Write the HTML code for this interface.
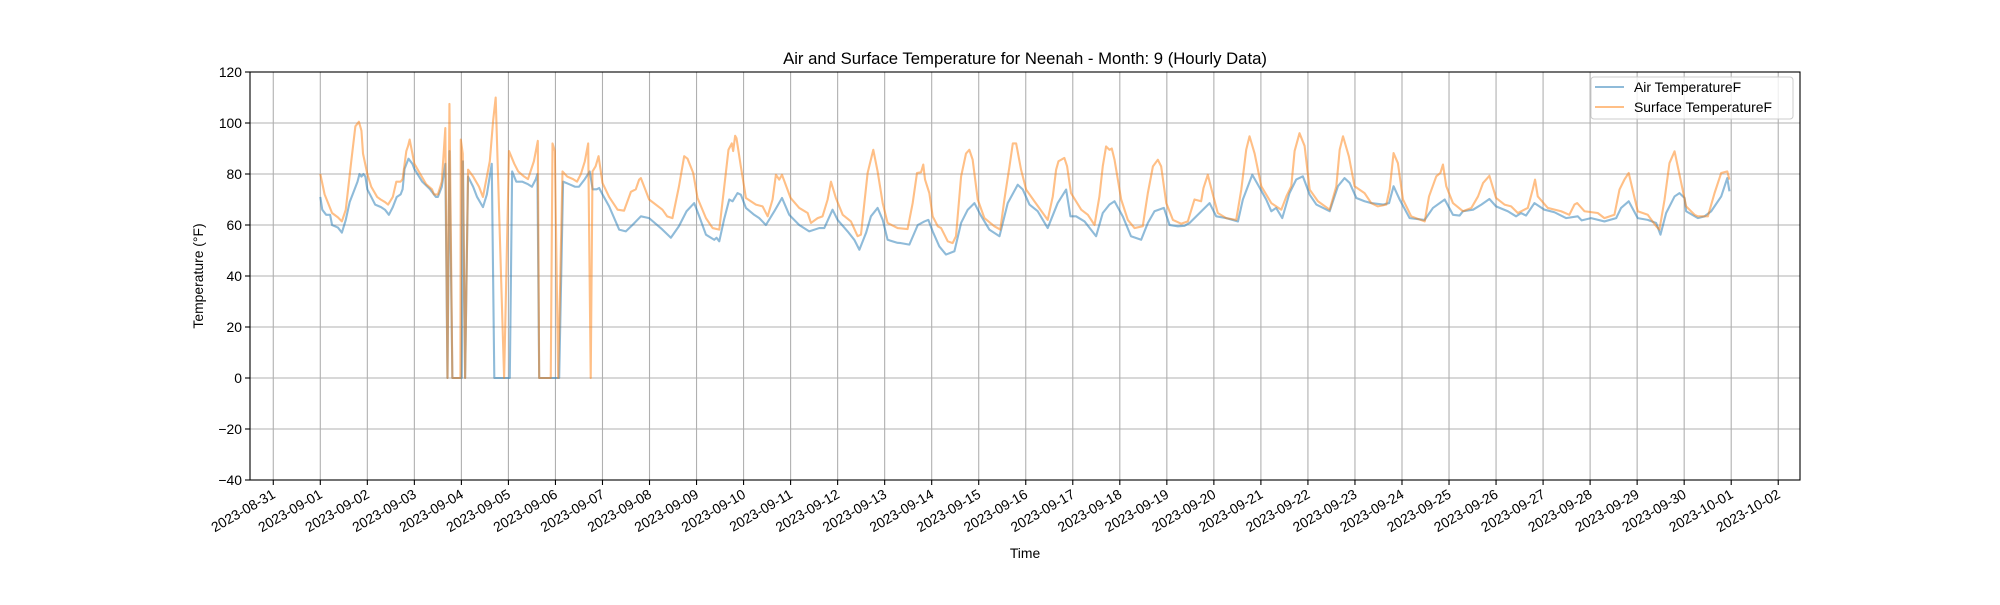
<!DOCTYPE html>
<html><head><meta charset="utf-8"><style>
html,body{margin:0;padding:0;background:#fff;}
svg text{font-family:"Liberation Sans","DejaVu Sans",sans-serif;fill:#000;}
</style></head><body>
<svg id="chart" width="2000" height="600" viewBox="0 0 2000 600" xmlns="http://www.w3.org/2000/svg">
<rect x="0" y="0" width="2000" height="600" fill="#fff"/>
<text x="1025" y="64" font-size="16.7" text-anchor="middle">Air and Surface Temperature for Neenah - Month: 9 (Hourly Data)</text>
<text x="1025" y="558" font-size="13.9" text-anchor="middle">Time</text>
<text transform="translate(203,276) rotate(-90)" font-size="13.9" text-anchor="middle">Temperature (°F)</text>
<g id="grid"></g><g id="series"></g><g id="axes"></g><g id="legend"></g>
</svg>
<script>
const yTicks=[-40,-20,0,20,40,60,80,100,120];
const xTickLabels=["2023-08-31","2023-09-01","2023-09-02","2023-09-03","2023-09-04","2023-09-05","2023-09-06","2023-09-07","2023-09-08","2023-09-09","2023-09-10","2023-09-11","2023-09-12","2023-09-13","2023-09-14","2023-09-15","2023-09-16","2023-09-17","2023-09-18","2023-09-19","2023-09-20","2023-09-21","2023-09-22","2023-09-23","2023-09-24","2023-09-25","2023-09-26","2023-09-27","2023-09-28","2023-09-29","2023-09-30","2023-10-01","2023-10-02"];
const xTickDays=[-1,0,1,2,3,4,5,6,7,8,9,10,11,12,13,14,15,16,17,18,19,20,21,22,23,24,25,26,27,28,29,30,31];
const airHours=[0,1,3,5,6,9,11,13,15,17,19,20,21,22,23,24,26,28,31,33,35,37,39,41,42,43,44,45,47,48,52,56,59,60,62,63.8,64.9,65.9,67.4,71.5,72.2,72.8,73.9,75.4,78,80,83,85,87.5,88.8,96.7,97.9,100,103,106,108,110,110.8,111.7,121.9,123.9,127,130,132,135,137.5,139,141,142.3,144,147.4,152.5,155.9,159.3,163.6,167.8,174.6,178.9,183,186.9,190.8,193.4,196.8,201,202.2,203.6,206,208.7,210.4,212.9,214.6,217.2,221.4,224,227.4,231.7,235.6,239.3,244.4,249.5,254.6,257.2,261.4,264,269.1,272.5,275.1,278.5,281,284.4,287,289.5,294.6,296.3,300.6,304.9,308.3,310.3,312.5,315.9,319.3,323.6,327,330.4,333.8,336.9,341.4,346.6,350.8,355.9,358.5,361.9,366.1,371.2,376.3,380.6,382.8,385.7,390,395.9,399.3,402.7,405.3,409.5,413.7,418.9,422.3,425.7,430.5,433.4,437.6,441,443.6,447,450.4,453.8,457.2,462.3,468.3,470.8,475.6,478.5,482.7,485.3,487.8,490.9,494.6,498,501.4,504.9,508.3,515.1,519.3,522.7,525.3,528.7,532.9,536.3,542.3,545.4,547.7,550.8,555.9,563.6,567.8,573.8,578,581.4,583.1,588.3,592.5,596.6,600,606,610.2,612.8,615.3,619.6,624.7,629.8,635.7,641.7,643.7,648.5,655.3,661.3,663.8,667.7,672.3,677.4,681.7,683.9,686.8,691.1,693.6,696.2,697,703,706.4,709.8,714.9,718,719.1];
const airTemps=[71,66,64,64,60,59,57,62,69,73,77,80,79,80,79,74,71,68,67,66,64,67,71,72,74,82,84,86,84,82,77,74,71,71,75,84,0,89,0,0,0,85,0,79,75,71,67,72,84,0,0,81,77,77,76,75,78,80,0,0,77,76,75,75,78,81,74,74,74.5,72,67.3,58.2,57.5,60,63.4,62.7,58.2,55,59.5,65.4,68.6,63.4,56.2,54.2,55,53.6,62,70,69.3,72.5,71.9,66.7,64,62.7,60,65.4,70.6,64,60,57.5,58.8,58.8,66,62,57.5,54.2,50.3,56.9,63.4,66.7,62,54.2,53,52.9,52.3,60,61.4,62,57.5,51.6,48.4,49.7,60.8,66,68.6,64,58.2,55.6,68.6,75.8,73.9,68,65.4,58.8,68.6,73.9,63.4,63.4,61.4,55.6,64.7,68,69.3,63.4,55.6,54.2,60.8,65.4,66.7,60,59.5,59.7,60.8,63.4,66,68.6,63.4,62.7,61.4,70,79.7,75.8,70,65.4,66.7,62.7,72.5,77.8,79.1,71.9,68,65.4,75.2,78.4,76.5,70.6,69.3,68.6,68,68.6,75.2,70,62.7,62,66.7,70,64,63.7,65.4,66,68,70.2,67.3,65.4,63.4,64.7,63.7,68.6,66,65,62.7,63.4,61.8,62.7,61.4,62.7,66.7,69.3,62.7,62,60.8,56.2,64.7,71.2,72.5,70.6,65.4,62.7,63.4,65.4,71.2,78.4,73.2];
const surfHours=[0,2.2,6,9,11,13,15.8,17.9,19.7,21,21.8,24,26,29,30.8,33,34.6,37,38.8,41,42,43.9,44.8,45.6,47,48,51,54,57,58,60,62,63.8,64.9,65.9,67.4,71.5,71.7,72.7,73.9,75.4,78,81,83,86.5,88.2,89.5,93.8,96.3,99,101,104,106,109,111,111.7,117.6,118.5,119.7,121.4,123.6,126,129,131,133,135,136.7,138,138.9,140.5,142,144,147.4,151.7,155,158.5,161,162.7,163.6,167.8,174.6,177,179.7,183,185.7,187.4,190.3,192.5,196.8,200.2,203.6,206,208.3,210,210.7,211.7,212.4,214.6,217.2,222.3,225.7,228.3,230.8,232.5,234.2,235.6,240,244.4,248.7,250.4,253.8,256.3,258.9,260.6,263.1,266.6,270.8,274.2,275.9,279.3,282.2,284.4,287,289.5,294.6,299.7,302.3,304.5,306.6,307.7,308.6,310.8,312.5,315.1,316.8,320.2,322.7,324.4,327,329.5,331.2,332.9,335.5,338.9,344,347,349.1,351.7,353.4,355.1,357.6,360.2,364.4,368.7,371.2,373.8,375.5,376.7,379.7,381.1,383.1,388.3,391.7,395.1,397.6,399.3,401,402.7,403.9,405.3,408.7,412.1,415.5,419.7,422.3,424.9,427.4,429.1,431.7,435.1,439.3,442.7,446.1,449.5,450.7,452.9,455.5,458,462.3,467.4,470,472.5,474.2,476.8,480.2,485.3,490.4,493,495.5,497.2,499.7,502.3,504.9,509.1,515.1,518.5,520.2,521.9,524.9,527.8,532.9,536.3,539.7,544,545.7,547.7,549.9,552.5,556.7,563.6,565.8,569.5,571.6,572.9,574.6,578,583.1,587.4,590.8,593.4,596.6,600,604.3,607.7,611.1,616.2,618.7,619.9,621.3,626.4,633.2,637.4,640,641.4,645.1,651.9,655.3,660.4,663,665.5,667.7,672.3,677.4,681.7,683.4,686,688.5,691.1,694.5,697,701.3,703,708.1,711.5,714.9,718,719.1];
const surfTemps=[80,72,64.7,63,61.4,66,85,98.7,100.5,97,88,80,75,71,70,69,68,71,77,77,78,89,91,93.5,88,84,80,76,74,72,72,77,98,0,107.5,0,0,93.5,88,0,81.7,79,75,71,85,101,110,0,89,84,81,79,78,85,93,0,0,92,89,0,81,79,78,77,80,85,92,0,81,83,87,76.5,71,66,65.6,73,74,77.8,78.4,70,66,63.4,62.7,75,87,86,80.4,70.6,62.7,58.8,58.2,74,89.5,92,89,95,94,83,70.6,68,67.3,63.4,70,79.7,77.8,79.7,70.6,66.7,64.7,60.8,62.7,63.4,70,77,70.6,64,61.4,55.6,56.2,80.4,89.5,81,68.6,60.8,58.8,58.4,68.6,80.4,80.7,83.7,77.8,72.5,63.4,59.5,58.8,53.6,52.9,55.6,79,88,89.5,85.6,70,62.7,59.5,58.2,70,83,92,92,81.7,73.9,69.3,64.7,62,71.2,81.7,85,86.3,83,72.5,66,64,60,71.2,83,90.8,89.5,90,85.6,70,62,58.8,59.5,72.5,83,85.6,83,68.6,62,60.5,61.4,70,69.3,74.5,79.7,71.9,64.7,62.7,62,73.9,89.5,94.8,88,75.2,68.6,66,71.2,75.2,89,96,91,73.9,69.3,66,75.2,89.5,94.8,86.9,75.2,72.5,68.6,67.3,68,73.9,88.2,84.3,70,63.4,61.4,71.2,79.1,80.4,83.7,75.2,68.6,65.4,66.7,71.2,76.5,79.3,70.6,68,67.3,64.7,66.7,73.9,77.8,71.2,66.7,65.4,64,68,68.6,65.4,64.7,62.7,64,73.9,77.8,80.4,65.4,64,59.5,58.2,70,84.3,88.9,76.5,67.3,64,63.4,63.4,72.5,80.4,81,77.8];

const NS='http://www.w3.org/2000/svg';
const L=250,R=1800,T=72,B=480;
const x0=320.3, pxPerDay=47.03;
function xOf(h){return x0+h*pxPerDay/24;}
function yOf(v){return B-(v+40)*(B-T)/160;}
function mk(tag,attrs,parent){const e=document.createElementNS(NS,tag);for(const k in attrs)e.setAttribute(k,attrs[k]);parent.appendChild(e);return e;}
const grid=document.getElementById('grid'),axes=document.getElementById('axes'),series=document.getElementById('series'),legend=document.getElementById('legend');

yTicks.forEach(v=>{
  const y=yOf(v);
  const g=mk('line',{x1:L,x2:R,y1:y,y2:y,stroke:'#b0b0b0','stroke-width':1.1},grid);
  
  
  const t=mk('line',{x1:L-5,x2:L,y1:y,y2:y,stroke:'#000','stroke-width':1.1},axes);
  
  
  const tx=mk('text',{x:L-8,y:y+5,'font-size':13.9,'text-anchor':'end'},axes);
  tx.textContent=(v<0?'\u2212'+Math.abs(v):String(v));
  
  
});
xTickDays.forEach((d,i)=>{
  const x=xOf(d*24);
  const g=mk('line',{x1:x,x2:x,y1:T,y2:B,stroke:'#b0b0b0','stroke-width':1.1},grid);
  
  
  const t=mk('line',{x1:x,x2:x,y1:B,y2:B+5,stroke:'#000','stroke-width':1.1},axes);
  
  
  const tx=mk('text',{x:0,y:0,'font-size':13.9,'text-anchor':'end',transform:'translate('+(x+3)+','+(B+17)+') rotate(-30)'},axes);
  tx.textContent=xTickLabels[i];
  
  
});
const frame=mk('rect',{x:L,y:T,width:R-L,height:B-T,fill:'none',stroke:'#000','stroke-width':1.1},axes);



function drawLine(hours,vals,color,name){
  const d=hours.map((h,i)=>(i?'L':'M')+xOf(h).toFixed(2)+','+yOf(vals[i]).toFixed(2)).join('');
  const p=mk('path',{d:d,fill:'none',stroke:color,'stroke-opacity':0.5,'stroke-width':2.1,'stroke-linejoin':'round'},series);
  
  
}
drawLine(airHours,airTemps,'#1f77b4','air-temperature-line');
drawLine(surfHours,surfTemps,'#ff7f0e','surface-temperature-line');

const lb=mk('rect',{x:1591,y:77,width:202,height:42,rx:3,fill:'#fff','fill-opacity':0.8,stroke:'#cccccc','stroke-width':1},legend);


[['Air TemperatureF','#1f77b4',87,'legend-entry-air'],['Surface TemperatureF','#ff7f0e',107,'legend-entry-surface']].forEach(e=>{
  const g=mk('g',{},legend);
  
  
  mk('line',{x1:1595,x2:1624,y1:e[2],y2:e[2],stroke:e[1],'stroke-opacity':0.5,'stroke-width':2.1},g);
  const t=mk('text',{x:1634,y:e[2]+5,'font-size':13.9},g);
  t.textContent=e[0];
});
</script>
</body></html>
